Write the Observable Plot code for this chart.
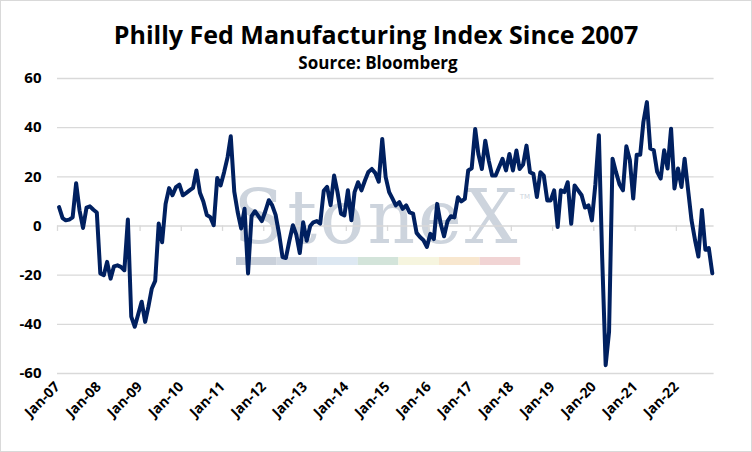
<!DOCTYPE html>
<html><head><meta charset="utf-8">
<script src="https://cdn.jsdelivr.net/npm/d3@7"></script>
<script src="https://cdn.jsdelivr.net/npm/@observablehq/plot@0.6"></script>
<style>
html,body{margin:0;padding:0;background:#fff;}
#chart{position:relative;width:752px;height:452px;box-sizing:border-box;border:1px solid #d9d9d9;background:#fff;font-family:"Open Sans",Lato,sans-serif;overflow:hidden;}
#title{position:absolute;left:0;right:0;top:17px;text-align:center;font-size:25px;font-weight:700;color:#000;line-height:32px;}
#subtitle{position:absolute;left:4px;right:0;top:51px;text-align:center;font-size:17px;font-weight:700;color:#000;line-height:22px;}
#plot{position:absolute;left:0;top:59px;}
</style></head>
<body>
<div id="chart">
  <div id="title">Philly Fed Manufacturing Index Since 2007</div>
  <div id="subtitle">Source: Bloomberg</div>
  <div id="plot"></div>
</div>
<script>
// Monthly Philly Fed Manufacturing Index readings
const v2007 = [7.7, 3.2, 2.3, 2.6, 3.5, 17.4, 6.4, -0.8, 7.5, 8.0, 6.6, 5.5];
const v2008 = [-19.3, -20.0, -14.6, -21.4, -16.4, -16.0, -16.6, -18.0, 2.6, -36.9, -41.0, -36.0];
const v2009 = [-30.8, -39.0, -33.0, -25.4, -22.3, 1.0, -6.6, 9.0, 15.4, 12.5, 15.8, 16.8];
const v2010 = [12.5, 13.5, 14.5, 15.5, 22.6, 13.5, 10.0, 4.5, 3.6, 0.3, 19.5, 16.5];
const v2011 = [21.9, 28.0, 36.5, 14.0, 5.7, -1.0, 7.0, -19.3, 4.0, 6.0, 4.0, 2.0];
const v2012 = [6.0, 10.5, 8.5, 4.5, -3.0, -12.6, -13.0, -6.0, 0.3, -3.5, -11.0, 1.5];
const v2013 = [-6.0, 0.0, 1.5, 2.0, 1.0, 14.3, 15.9, 8.5, 20.5, 13.8, 5.0, 4.3];
const v2014 = [14.5, 2.3, 13.8, 17.8, 14.5, 18.5, 22.0, 23.2, 21.5, 18.0, 35.4, 20.0];
const v2015 = [13.8, 11.0, 8.4, 9.7, 7.0, 8.4, 5.5, 5.0, -2.8, -4.5, -5.8, -8.5];
const v2016 = [-3.2, -5.3, 9.0, 1.0, -4.2, 2.0, 4.0, 3.5, 11.7, 10.0, 11.0, 22.6];
const v2017 = [23.5, 39.5, 29.3, 23.2, 34.7, 26.6, 20.5, 20.5, 24.0, 27.3, 22.6, 29.3];
const v2018 = [22.6, 30.7, 23.2, 25.0, 32.7, 21.9, 21.2, 11.8, 21.9, 20.5, 10.4, 10.4];
const v2019 = [14.5, -0.4, 14.5, 13.8, 17.8, 0.9, 16.5, 14.5, 12.5, 7.5, 8.4, 2.3];
const v2020 = [17.0, 36.9, -12.7, -56.6, -43.0, 27.4, 22.0, 17.0, 14.5, 32.4, 26.8, 11.2];
const v2021 = [29.0, 29.0, 42.3, 50.4, 31.5, 30.8, 22.0, 19.3, 30.8, 23.4, 39.6, 15.3];
const v2022 = [23.4, 15.9, 27.4, 14.6, 2.4, -5.7, -12.4, 6.5, -9.7, -9.0, -19.2];

const yearLabels = ["Jan-07","Jan-08","Jan-09","Jan-10","Jan-11","Jan-12","Jan-13","Jan-14",
                    "Jan-15","Jan-16","Jan-17","Jan-18","Jan-19","Jan-20","Jan-21","Jan-22"];
const yTicks = [-60, -40, -20, 0, 20, 40, 60];

const series = [v2007, v2008, v2009, v2010, v2011, v2012, v2013, v2014,
                v2015, v2016, v2017, v2018, v2019, v2020, v2021, v2022];
const data = series.flat().map((v, i) => ({date: new Date(Date.UTC(2007, i, 15)), value: v}));
const tickDates = yearLabels.map((_, k) => new Date(Date.UTC(2007 + k, 0, 1)));
const labelOf = new Map(tickDates.map((d, k) => [+d, yearLabels[k]]));

const gridColor = "#d9d9d9";
const chart = Plot.plot({
  width: 750, height: 391,
  marginLeft: 56, marginRight: 37.4, marginTop: 18, marginBottom: 78,
  style: {fontFamily: "'Open Sans', Lato, sans-serif", fontSize: "14px", fontWeight: "bold", color: "#000", background: "transparent"},
  x: {type: "utc", domain: [new Date(Date.UTC(2007, 0, 1)), new Date(Date.UTC(2022, 11, 1))]},
  y: {domain: [-60, 60]},
  marks: [
    Plot.gridY(yTicks, {stroke: gridColor, strokeOpacity: 1, strokeWidth: 1.3}),
    Plot.ruleX(tickDates, {x: d => d, y1: 0, y2: -2.2, stroke: gridColor, strokeWidth: 1.3}),
    Plot.axisY(yTicks, {tickSize: 0, tickPadding: 16, fontSize: 15, label: null, tickFormat: d => String(d)}),
    Plot.axisX(tickDates, {tickSize: 0, tickPadding: 11, tickRotate: -45, fontSize: 14, label: null,
                           tickFormat: d => labelOf.get(+d)}),
    Plot.line(data, {x: "date", y: "value", stroke: "#002060", strokeWidth: 4,
                     strokeLinejoin: "round", strokeLinecap: "round"})
  ]
});
document.getElementById("plot").appendChild(chart);

// StoneX watermark (decoration, behind the gridlines)
const svg = d3.select(chart);
const wm = svg.insert("g", ":scope > g").attr("aria-label", "watermark");
const cx = 376, base = 183;
wm.append("text")
  .attr("x", cx).attr("y", base)
  .attr("text-anchor", "middle")
  .attr("font-family", "'DejaVu Serif', 'Liberation Serif', serif")
  .attr("font-size", 74).attr("letter-spacing", 3).attr("font-weight", "normal")
  .attr("fill", "#cdd4dd")
  .text("StoneX");
wm.append("text")
  .attr("x", 524).attr("y", 139)
  .attr("font-family", "'DejaVu Sans', sans-serif")
  .attr("font-size", 7).attr("font-weight", "normal").attr("fill", "#cdd4dd")
  .text("TM");
const barColors = ["#c9d0da", "#d4dbe4", "#dde8f2", "#d3e4da", "#f6f5df", "#f8e7cf", "#f1d4d4"];
barColors.forEach((c, k) => {
  wm.append("rect").attr("x", 235 + k * 40.6).attr("y", 197).attr("width", 40.6).attr("height", 8).attr("fill", c);
});
</script>
</body></html>
